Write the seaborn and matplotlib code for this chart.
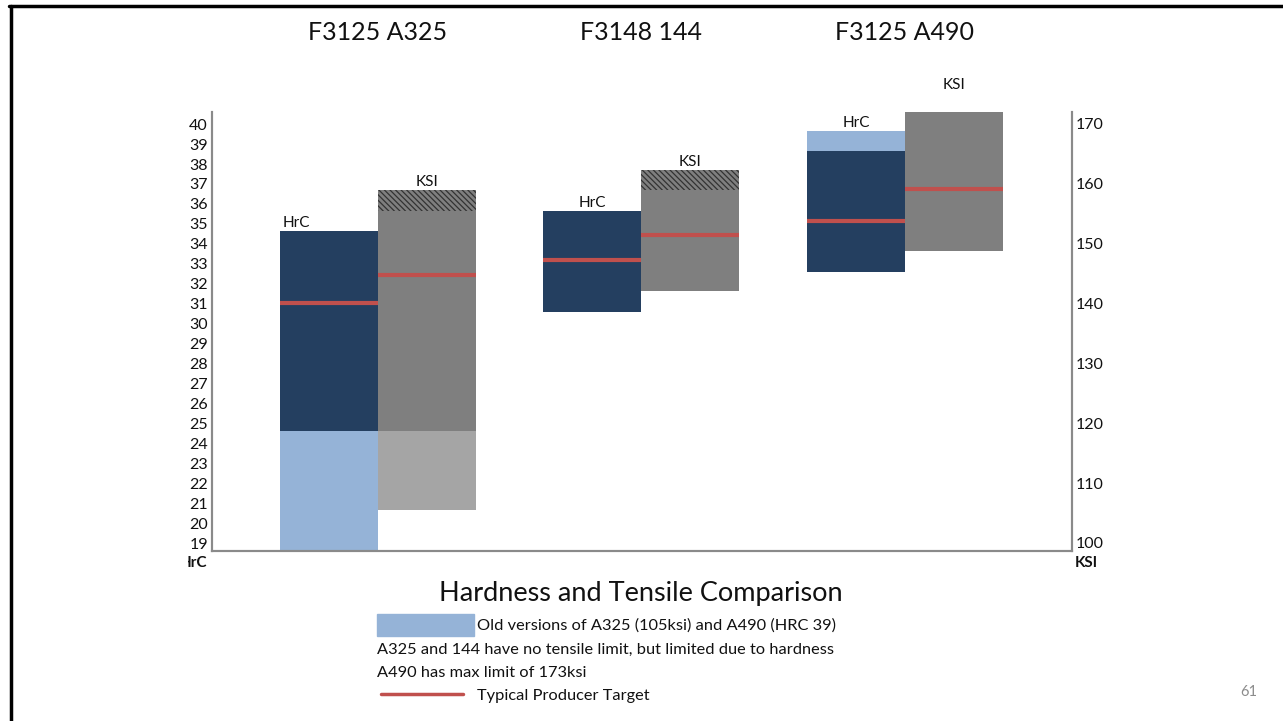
import numpy as np
import matplotlib
matplotlib.use("Agg")
import matplotlib.pyplot as plt
import matplotlib.patches as mpatches
import matplotlib.transforms as mtransforms
from matplotlib.lines import Line2D
from matplotlib.transforms import Bbox, TransformedBbox
import seaborn as sns

# =====================
# DATA
# =====================
groups = ["F3125 A325", "F3148 144", "F3125 A490"]

# hardness range (HrC)
hrc_low = [24.63, 30.60, 32.61]
hrc_high = [34.64, 35.65, 38.65]
hrc_target = [31.04, 33.21, 35.13]

# old versions of the spec (HrC), nan = none
old_hrc_low = [18.0, np.nan, 38.65]
old_hrc_high = [24.63, np.nan, 39.65]

# tensile range (KSI)
ksi_low = [118.79, 142.07, 148.75]
ksi_high = [155.43, 158.94, 172.13]
ksi_target = [144.74, 151.37, 159.17]

# "limited due to hardness" part (hatched)
ksi_hatch_low = [155.43, 158.94, np.nan]
ksi_hatch_high = [158.89, 162.23, np.nan]

# old A325 tensile (105 ksi)
old_ksi_low = [105.43, np.nan, np.nan]
old_ksi_high = [118.79, np.nan, np.nan]

hrc_ticks = list(range(19, 41))
ksi_ticks = list(range(100, 171, 10))

# colors
navy = "#243F60"
light_blue = "#95B3D7"
gray = "#7F7F7F"
light_gray = "#A5A5A5"
red = "#C0504D"
txt = "#111111"

# =====================
# STYLE
# =====================
sns.set_theme(style="white")
plt.rcParams['font.family'] = ['Lato', 'DejaVu Sans']
plt.rcParams['hatch.linewidth'] = 0.9

W, H = 1283, 721
fig = plt.figure(figsize=(W / 100, H / 100), dpi=100)
ax = fig.add_axes([212 / W, 1 - 551 / H, (1072 - 212) / W, (551 - 111.7) / H])
ax2 = ax.twinx()

x = np.arange(len(groups))
bw = 0.372

# HrC bars (left of each group)
hx = x - bw / 2
ax.bar(hx, np.subtract(old_hrc_high, old_hrc_low), bottom=old_hrc_low, width=bw,
       color=light_blue, linewidth=0)
ax.bar(hx, np.subtract(hrc_high, hrc_low), bottom=hrc_low, width=bw,
       color=navy, linewidth=0)
ax.hlines(hrc_target, hx - bw / 2, hx + bw / 2, color=red, lw=3, zorder=5)

# KSI bars (right of each group)
kx = x + bw / 2
ax2.bar(kx, np.subtract(old_ksi_high, old_ksi_low), bottom=old_ksi_low, width=bw,
        color=light_gray, linewidth=0)
ax2.bar(kx, np.subtract(ksi_high, ksi_low), bottom=ksi_low, width=bw,
        color=gray, linewidth=0)
ax2.bar(kx, np.subtract(ksi_hatch_high, ksi_hatch_low), bottom=ksi_hatch_low, width=bw,
        color=gray, edgecolor="#333333", hatch="\\\\\\\\\\\\", linewidth=0)
ax2.hlines(ksi_target, kx - bw / 2, kx + bw / 2, color=red, lw=3, zorder=5)

# axis limits / ticks
ax.set_xlim(-0.630, 2.634)
ax.set_ylim(18.62, 40.62)
ax2.set_ylim(98.66, 172.05)
ax.set_yticks(hrc_ticks)
ax2.set_yticks(ksi_ticks)
ax.set_xticks([])
ax.tick_params(axis='y', length=0, pad=3, labelsize=11.5, labelcolor=txt)
ax2.tick_params(axis='y', length=0, pad=3, labelsize=11.5, labelcolor=txt)
ax.grid(False)
ax2.grid(False)

for a in (ax, ax2):
    for s in a.spines.values():
        s.set_color("#8a8a8a")
        s.set_linewidth(1.5)
    a.spines['top'].set_visible(False)

# labels above bars
hrc_tops = [np.nanmax([a, b]) for a, b in zip(hrc_high, old_hrc_high)]
ksi_tops = [np.nanmax([a, b]) for a, b in zip(ksi_high, ksi_hatch_high)]
hrc_lab_x = [hx[0] - bw / 2 + 0.01, hx[1], hx[2]]
hrc_lab_ha = ["left", "center", "center"]
ksi_lab_off = [1, 1, 14]
for i in range(len(groups)):
    ax.annotate("HrC", (hrc_lab_x[i], hrc_tops[i]), xytext=(0, 0.5),
                textcoords="offset points", ha=hrc_lab_ha[i], va="bottom",
                fontsize=11, color=txt)
    ax2.annotate("KSI", (kx[i], ksi_tops[i]), xytext=(0, ksi_lab_off[i]),
                 textcoords="offset points", ha="center", va="bottom",
                 fontsize=11, color=txt)

# group titles
title_tr = mtransforms.blended_transform_factory(ax.transData, fig.transFigure)
for i, g in enumerate(groups):
    ax.text(x[i], 1 - 33 / H, g, transform=title_tr,
            ha="center", va="center", fontsize=18, color=txt)

# axis unit labels under the axes
t = fig.text(207 / W, 1 - 563 / H, "HrC", ha="right", va="center", fontsize=11,
             fontweight="bold", color=txt)
t.set_clip_box(TransformedBbox(Bbox([[188 / W, 0], [1, 1]]), fig.transFigure))
t.set_clip_on(True)
fig.text(1075 / W, 1 - 563 / H, "KSI", ha="left", va="center", fontsize=11,
         fontweight="bold", color=txt)

# title and notes
fig.text(641 / W, 1 - 594 / H, "Hardness and Tensile Comparison", ha="center",
         va="center", fontsize=19.5, color=txt)
fig.patches.append(mpatches.Rectangle((377 / W, 1 - 636 / H), 97 / W, 22 / H,
                                      transform=fig.transFigure, color=light_blue))
fig.text(477 / W, 1 - 626 / H, "Old versions of A325 (105ksi) and A490 (HRC 39)",
         ha="left", va="center", fontsize=11.8, color=txt)
fig.text(377 / W, 1 - 650 / H, "A325 and 144 have no tensile limit, but limited due to hardness",
         ha="left", va="center", fontsize=11.8, color=txt)
fig.text(377 / W, 1 - 673 / H, "A490 has max limit of 173ksi",
         ha="left", va="center", fontsize=11.8, color=txt)
fig.lines.append(Line2D([381 / W, 463 / W], [1 - 694 / H, 1 - 694 / H],
                        transform=fig.transFigure, color=red, lw=2.5))
fig.text(477 / W, 1 - 696 / H, "Typical Producer Target",
         ha="left", va="center", fontsize=11.8, color=txt)

# page number
fig.text(1249 / W, 1 - 692 / H, "61", ha="center", va="center", fontsize=10.5, color="#8c8c8c")

# slide frame
fig.lines.append(Line2D([10.5 / W, 10.5 / W], [0, 1 - 5.5 / H], transform=fig.transFigure,
                        color="black", lw=2.5))
fig.lines.append(Line2D([9 / W, 1], [1 - 5.5 / H, 1 - 5.5 / H], transform=fig.transFigure,
                        color="black", lw=2.5))

fig.savefig("out.png", dpi=100)
